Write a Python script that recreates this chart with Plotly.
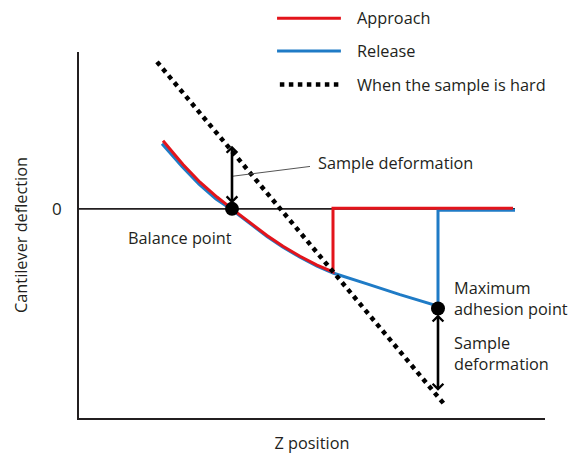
import plotly.graph_objects as go

# ---- data (Z position units, deflection units; 0 = balance level) ----
approach_z = [8.4, 10.4, 12.1, 13.8, 15.3, 17.1, 18.8, 20.4, 22.1, 23.8, 25.4, 25.4, 43.4]
approach_d = [6.9, 4.5, 2.7, 1.2, 0.0, -1.4, -2.7, -3.8, -4.8, -5.7, -6.4, 0.05, 0.05]

release_z = [8.3, 10.3, 12.0, 13.7, 15.3, 17.1, 18.8, 20.4, 22.1, 23.8, 25.4, 28.8, 32.1, 35.4, 35.9, 35.9, 43.6]
release_d = [6.6, 4.3, 2.5, 1.0, -0.1, -1.5, -2.8, -3.9, -4.9, -5.8, -6.5, -7.6, -8.7, -9.7, -10.1, -0.15, -0.15]

hard_z = [7.8, 36.6]
hard_d = [14.9, -19.9]

zero_z = [0.0, 43.6]
zero_d = [0.0, 0.0]

balance_pt = (15.3, 0.0)
adhesion_pt = (35.9, -10.1)

# double arrows (z, d_top, d_bottom)
arrow_upper = (15.3, 6.4, 0.4)
arrow_lower = (35.9, -10.7, -18.6)

legend_names = ["Approach", "Release", "When the sample is hard"]

RED = "#e3141b"
BLUE = "#1f7bc6"
INK = "#231f20"
FONT = "Open Sans"
FS = 16.3

fig = go.Figure()

fig.add_trace(go.Scatter(x=zero_z, y=zero_d, mode="lines",
                         line=dict(color=INK, width=1.6), showlegend=False))
fig.add_trace(go.Scatter(x=release_z, y=release_d, mode="lines", name=legend_names[1],
                         line=dict(color=BLUE, width=3), showlegend=False))
fig.add_trace(go.Scatter(x=approach_z, y=approach_d, mode="lines", name=legend_names[0],
                         line=dict(color=RED, width=3), showlegend=False))
fig.add_trace(go.Scatter(x=hard_z, y=hard_d, mode="lines", name=legend_names[2],
                         line=dict(color="black", width=4.5, dash="dot"), showlegend=False))
fig.add_trace(go.Scatter(x=[balance_pt[0], adhesion_pt[0]], y=[balance_pt[1], adhesion_pt[1]],
                         mode="markers", marker=dict(color="black", size=14), showlegend=False))

# leader line for upper "Sample deformation"
fig.add_trace(go.Scatter(x=[15.3, 23.1], y=[3.3, 4.3], mode="lines",
                         line=dict(color="#555555", width=1), showlegend=False))

# double-headed arrows
for (z, top, bot) in [arrow_upper, arrow_lower]:
    fig.add_annotation(x=z, y=top, ax=z, ay=bot, xref="x", yref="y", axref="x", ayref="y",
                       showarrow=True, arrowside="end+start", arrowhead=4, startarrowhead=4,
                       arrowsize=0.8, startarrowsize=0.8, arrowwidth=2.6, arrowcolor="black", text="")

txt = dict(family=FONT, size=FS, color=INK)
fig.add_annotation(x=23.7, y=4.6, xref="x", yref="y", text="Sample deformation",
                   showarrow=False, xanchor="left", yanchor="middle", font=txt)
fig.add_annotation(x=10.1, y=-3.0, xref="x", yref="y", text="Balance point",
                   showarrow=False, xanchor="center", yanchor="middle", font=txt)
fig.add_annotation(x=37.3, y=-9.1, xref="x", yref="y", text="Maximum<br>adhesion point",
                   showarrow=False, xanchor="left", yanchor="middle", align="left", font=txt)
fig.add_annotation(x=37.3, y=-14.7, xref="x", yref="y", text="Sample<br>deformation",
                   showarrow=False, xanchor="left", yanchor="middle", align="left", font=txt)

# manual legend (paper coordinates above the plot area)
leg_y = [1.092, 1.003, 0.911]
leg_styles = [dict(color=RED, width=3), dict(color=BLUE, width=3),
              dict(color="black", width=4.5, dash="dot")]
leg_x0 = [0.425, 0.425, 0.431]
for name, yy, st, x0 in zip(legend_names, leg_y, leg_styles, leg_x0):
    fig.add_shape(type="line", xref="paper", yref="paper", x0=x0, x1=0.562, y0=yy, y1=yy,
                  line=st)
    fig.add_annotation(x=0.592, y=yy, xref="paper", yref="paper", text=name, showarrow=False,
                       xanchor="left", yanchor="middle", font=txt)

fig.update_layout(
    width=578, height=460,
    margin=dict(l=79, r=33, t=52, b=37),
    paper_bgcolor="white", plot_bgcolor="white",
    font=dict(family=FONT, size=FS, color=INK),
    showlegend=False,
    hovermode=False,
    xaxis=dict(range=[0, 46.6], showline=True, linecolor=INK, linewidth=1.6,
               showgrid=False, zeroline=False, showticklabels=False, ticks="",
               title=dict(text="Z position", font=txt, standoff=19)),
    yaxis=dict(range=[-21.2, 15.9], showline=True, linecolor=INK, linewidth=1.6,
               showgrid=False, zeroline=False, tickvals=[0], ticktext=["0"], ticks="",
               tickfont=dict(family=FONT, size=17, color=INK), ticklabelstandoff=12,
               title=dict(text="Cantilever deflection", font=txt, standoff=20)),
)

fig.write_html("out.html", config={"displayModeBar": False},
               post_script="document.body.style.margin='0';document.body.style.overflow='hidden';")
